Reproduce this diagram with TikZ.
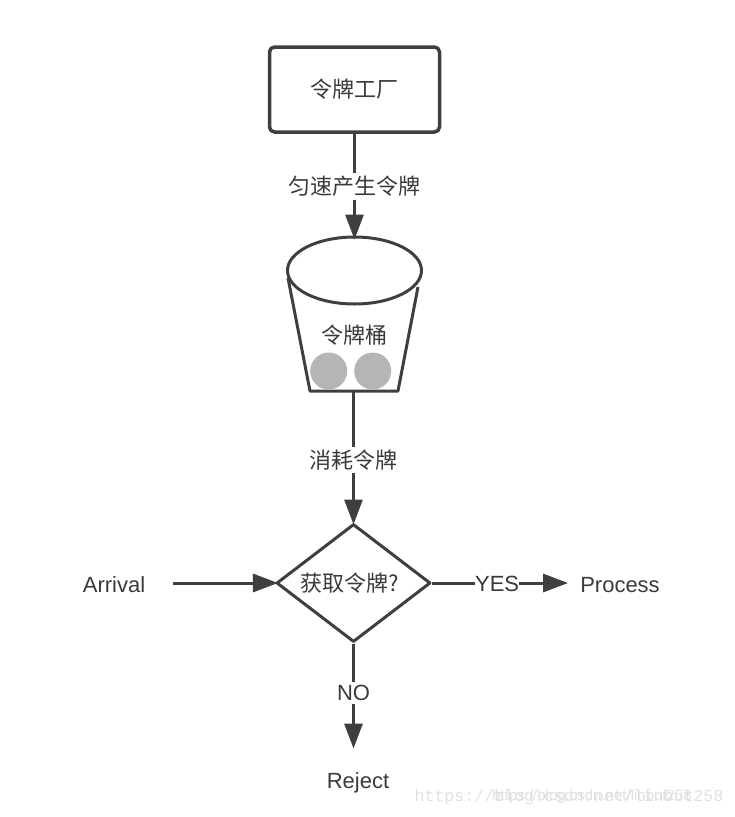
\documentclass[tikz,border=0pt]{standalone}
\usepackage{fontspec}
\setmainfont{Liberation Sans}
\setmonofont{Liberation Mono}
\newfontfamily\cjk{Noto Sans CJK SC}
\usetikzlibrary{arrows.meta,shapes.geometric}
\definecolor{inkline}{HTML}{3F3F3F}
\definecolor{inktext}{HTML}{3A3A3A}
\definecolor{tokengray}{HTML}{B5B5B5}
\tikzset{
  flow/.style={draw=inkline, line width=3pt, -{Triangle[length=25pt,width=18pt]}},
  edge/.style={draw=inkline, line width=3pt},
  plain/.style={text=inktext, inner sep=0pt, font=\fontsize{22}{26}\selectfont},
  tag/.style={plain, fill=white, inner ysep=3pt, inner xsep=0pt},
  mark text/.style={inner sep=0pt, text=black!12, font=\ttfamily\fontsize{16.6}{20}\selectfont}
}
\begin{document}
\begin{tikzpicture}[x=1pt, y=-1pt, line join=round]

  %% ════ 节点 ════
  \node[plain, draw=inkline, line width=3.5pt, rounded corners=5pt, minimum width=170pt, minimum height=85pt] (factory) at (354.5,89.5) {\cjk 令牌工厂};
  \node[ellipse, draw=inkline, line width=3pt, inner sep=0pt, minimum width=134pt, minimum height=67pt] (rim) at (354.5,270.5) {};
  \node[plain] (bucket) at (354,335) {\cjk 令牌桶};
  \node[diamond, aspect=1.3, plain, draw=inkline, line width=3pt, minimum width=154pt, minimum height=118pt] (check) at (353.5,583) {\cjk 获取令牌?\kern7pt};
  \node[plain] (arrival) at (114,585) {Arrival};
  \node[plain] (process) at (620,585) {Process};
  \node[plain] (reject) at (358,783) {Reject};

  %% ════ 桶身 ════
  \coordinate (base) at (353.5,391);
  \draw[edge] (288,278) -- (310,391) -- (398,391) -- (418,287);
  \fill[tokengray] (328.7,371) circle (18.5);
  \fill[tokengray] (372.7,371) circle (18.5);

  %% ════ 连线 ════
  \draw[flow, shorten >=-4pt] (factory) -- node[tag, pos=.52] (rate) {\cjk 匀速产生令牌} (rim);
  \draw[flow, shorten >=-2pt] (base) -- node[tag, pos=.525] (consume) {\cjk 消耗令牌} (check);
  \draw[flow, shorten <=28pt, shorten >=-3pt] (arrival.east |- check) -- (check);
  \draw[flow, shorten >=12pt] (check) -- node[tag, pos=.44, yshift=-1pt] (yes) {YES} (process.west |- check);
  \draw[flow, shorten >=24pt] (check) -- node[tag, pos=.385] (no) {NO} (reject.north -| check);

  %% ════ 水印 ════
  \node[mark text] (markmono) at (569,797) {https://blog.csdn.net/linbut258};
  \node[mark text, font=\fontsize{15}{18}\selectfont] (marksans) at (592,797) {https://blog.csdn.net/linbut258};

  \pgfresetboundingbox
  \path[use as bounding box] (0,0) rectangle (734,817);
\end{tikzpicture}
\end{document}
